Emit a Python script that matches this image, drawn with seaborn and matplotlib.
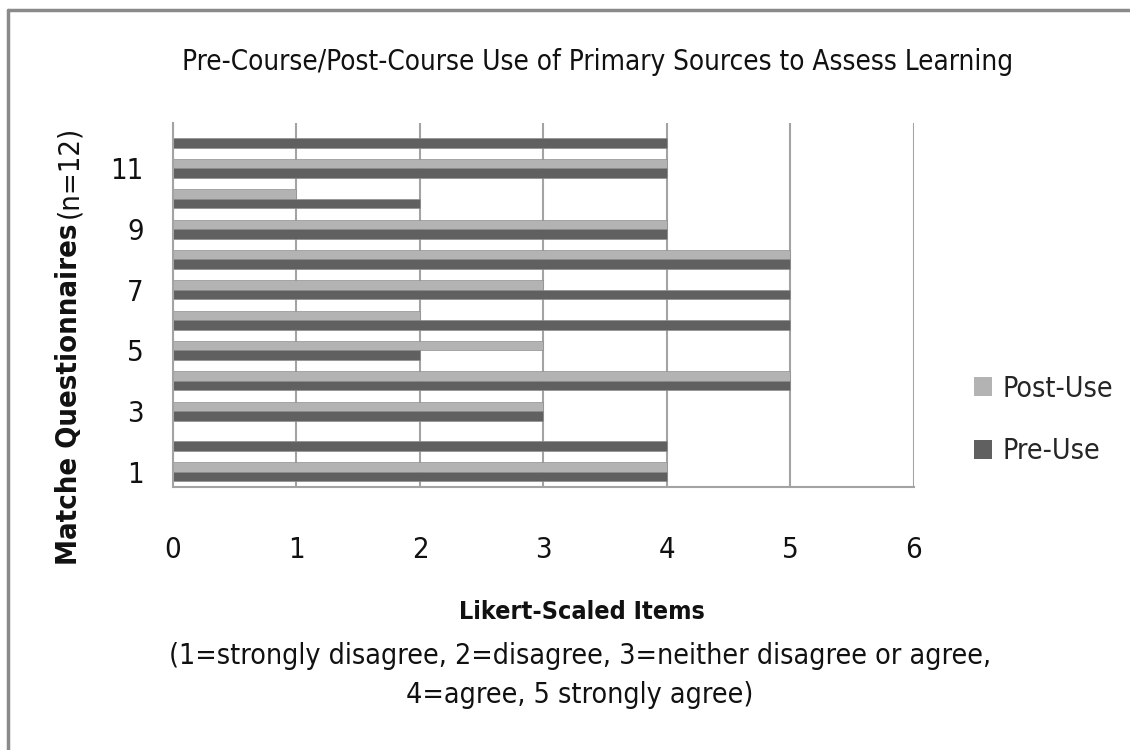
import matplotlib
matplotlib.use("Agg")
import matplotlib.pyplot as plt
from matplotlib.patches import Patch
from matplotlib.lines import Line2D
import seaborn as sns
import pandas as pd

# Matched questionnaires 1..12, Likert scores before and after using primary sources
questionnaires = [str(i) for i in range(1, 13)]
pre_use = [4, 4, 3, 5, 2, 5, 5, 5, 4, 2, 4, 4]
post_use = [4, 0, 3, 5, 3, 2, 3, 5, 4, 1, 4, 0]
shown_ticks = ["1", "3", "5", "7", "9", "11"]
x_ticks = [0, 1, 2, 3, 4, 5, 6]

sns.set_theme(style="white")
plt.rcParams["font.family"] = ["DejaVu Sans"]
plt.rcParams["font.stretch"] = "condensed"

df = pd.DataFrame({
    "Questionnaire": questionnaires * 2,
    "Score": pre_use + post_use,
    "Use": ["Pre-Use"] * 12 + ["Post-Use"] * 12,
})

DARK = "#606060"
LIGHT = "#b3b3b3"
GRID = "#a3a3a3"
INK = "#111111"

fig = plt.figure(figsize=(11.3, 7.5), dpi=100)
ax = fig.add_axes([0.1531, 0.3507, 0.8088 - 0.1531, 0.8360 - 0.3507])

order = questionnaires[::-1]
sns.barplot(
    data=df, x="Score", y="Questionnaire", hue="Use",
    order=order, hue_order=["Post-Use", "Pre-Use"],
    palette={"Post-Use": LIGHT, "Pre-Use": DARK},
    orient="h", width=0.62, gap=0, errorbar=None, legend=False,
    edgecolor="#8f8f8f", linewidth=0.5, ax=ax,
)

ax.set_xlim(0, 6)
ax.set_xticks(x_ticks)
ax.set_xticklabels([str(v) for v in x_ticks], fontsize=21, fontstretch="condensed")
ax.set_yticks([order.index(s) for s in shown_ticks])
ax.set_yticklabels(shown_ticks, fontsize=21, fontstretch="condensed")
ax.tick_params(axis="x", length=9, width=1.5, color=GRID, pad=26)
ax.tick_params(axis="y", length=0, pad=21)
for lbl in ax.get_xticklabels() + ax.get_yticklabels():
    lbl.set_color(INK)

ax.grid(axis="x", color=GRID, linewidth=1.5)
ax.set_axisbelow(True)
for side in ["top", "right"]:
    ax.spines[side].set_visible(False)
for side in ["left", "bottom"]:
    ax.spines[side].set_color(GRID)
    ax.spines[side].set_linewidth(1.5)
ax.set_xlabel("")
ax.set_ylabel("")

cond = dict(fontstretch="condensed", color=INK)

# Title and axis titles
fig.text(0.529, 0.917, "Pre-Course/Post-Course Use of Primary Sources to Assess Learning",
         ha="center", va="center", fontsize=20, **cond)
fig.text(0.515, 0.184, "Likert-Scaled Items", ha="center", va="center",
         fontsize=18, fontweight="bold", **cond)
fig.text(0.513, 0.126, "(1=strongly disagree, 2=disagree, 3=neither disagree or agree,",
         ha="center", va="center", fontsize=20.5, **cond)
fig.text(0.513, 0.073, "4=agree, 5 strongly agree)",
         ha="center", va="center", fontsize=20.5, **cond)

# Vertical axis title: bold part followed by the sample size
ylab1 = fig.text(0.061, 1 - 565 / 750, "Matche Questionnaires", rotation=90,
                 ha="center", va="bottom", fontsize=21, fontweight="bold", **cond)
fig.canvas.draw()
bb = ylab1.get_window_extent(renderer=fig.canvas.get_renderer())
top_frac = bb.y1 / fig.bbox.height
fig.text(0.061, top_frac + 0.008, "(n=12)", rotation=90,
         ha="center", va="bottom", fontsize=21, **cond)

# Legend
handles = [Patch(facecolor=LIGHT, edgecolor="none", label="Post-Use"),
           Patch(facecolor=DARK, edgecolor="none", label="Pre-Use")]
fig.legend(handles=handles, loc="center left", bbox_to_anchor=(0.839, 0.44),
           frameon=False, handlelength=0.65, handleheight=0.65,
           handletextpad=0.35, labelspacing=1.2,
           prop={"size": 20.5, "stretch": "condensed"})

# Frame lines along the left and top edges
fig.add_artist(Line2D([0.0075, 0.0075], [0.0, 0.987], transform=fig.transFigure,
                      color="#8a8a8a", linewidth=2.5))
fig.add_artist(Line2D([0.0075, 1.0], [0.987, 0.987], transform=fig.transFigure,
                      color="#8a8a8a", linewidth=2.5))

fig.savefig("out.png", dpi=100, facecolor="white")
